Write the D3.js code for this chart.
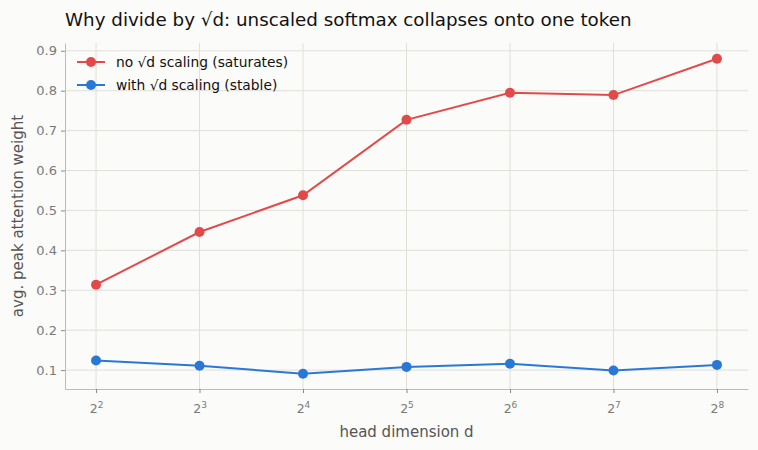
<!DOCTYPE html>
<html>
<head>
<meta charset="utf-8">
<script src="https://cdn.jsdelivr.net/npm/d3@7"></script>
<style>
  html, body { margin: 0; padding: 0; background: #fbfbf9; }
  svg { display: block; font-family: "DejaVu Sans", sans-serif; }
</style>
</head>
<body>
<div id="chart"></div>
<script>
const exponents = [2, 3, 4, 5, 6, 7, 8];
const noScaling = [0.314, 0.446, 0.538, 0.727, 0.795, 0.789, 0.880];
const withScaling = [0.124, 0.111, 0.091, 0.108, 0.116, 0.099, 0.113];
const yTicks = [0.1, 0.2, 0.3, 0.4, 0.5, 0.6, 0.7, 0.8, 0.9];
const seriesNames = ["no \u221Ad scaling (saturates)", "with \u221Ad scaling (stable)"];
const seriesColors = ["#e24a4a", "#2a78d6"];

const width = 758, height = 450;
const margin = {top: 43, right: 10, bottom: 61, left: 65};
const innerW = width - margin.left - margin.right,
      innerH = height - margin.top - margin.bottom;

const svg = d3.select("#chart")
    .append("svg")
    .attr("width", width)
    .attr("height", height);

svg.append("rect")
    .attr("width", width)
    .attr("height", height)
    .attr("fill", "#fbfbf9");

const g = svg.append("g")
    .attr("transform", "translate(" + margin.left + "," + margin.top + ")");

const x = d3.scaleLinear().domain([1.7, 8.3]).range([0, innerW]);
const y = d3.scaleLinear().domain([0.0526, 0.9195]).range([innerH, 0]);

// grid
g.selectAll(".vgrid")
    .data(exponents)
    .enter()
    .append("line")
    .attr("x1", d => x(d)).attr("x2", d => x(d))
    .attr("y1", 0).attr("y2", innerH)
    .attr("stroke", "#e0dfda").attr("stroke-width", 1);

g.selectAll(".hgrid")
    .data(yTicks)
    .enter()
    .append("line")
    .attr("x1", 0).attr("x2", innerW)
    .attr("y1", d => y(d)).attr("y2", d => y(d))
    .attr("stroke", "#e0dfda").attr("stroke-width", 1);

// axes
const xAxis = g.append("g")
    .attr("transform", "translate(0," + innerH + ")")
    .call(d3.axisBottom(x).tickValues(exponents).tickSize(4).tickSizeOuter(0).tickFormat(""));
const yAxis = g.append("g")
    .call(d3.axisLeft(y).tickValues(yTicks).tickSize(4).tickSizeOuter(0).tickFormat(d3.format(".1f")));

[xAxis, yAxis].forEach(a => {
    a.select(".domain").attr("stroke", "#bdbcb6");
    a.selectAll(".tick line").attr("stroke", "#8a8a86");
    a.selectAll("text").attr("fill", "#7a7a7a").attr("font-size", 13)
        .attr("font-family", "DejaVu Sans, sans-serif");
});
yAxis.selectAll("text").attr("x", -8);

// x tick labels as 2^n
const xl = xAxis.selectAll(".tick")
    .append("text")
    .attr("y", 24)
    .attr("text-anchor", "middle")
    .attr("fill", "#7a7a7a")
    .attr("font-size", 12.5)
    .attr("font-family", "DejaVu Sans, sans-serif");
xl.append("tspan").text("2");
xl.append("tspan").attr("dy", -5).attr("font-size", 9).text(d => d);

// axis labels
g.append("text")
    .attr("x", innerW / 2)
    .attr("y", innerH + 48)
    .attr("text-anchor", "middle")
    .attr("fill", "#555")
    .attr("font-size", 15)
    .text("head dimension d");

g.append("text")
    .attr("transform", "translate(-42," + (innerH / 2) + ") rotate(-90)")
    .attr("text-anchor", "middle")
    .attr("fill", "#555")
    .attr("font-size", 15)
    .text("avg. peak attention weight");

// title
svg.append("text")
    .attr("x", 65)
    .attr("y", 26)
    .attr("fill", "#111")
    .attr("font-size", 18.3)
    .text("Why divide by \u221Ad: unscaled softmax collapses onto one token");

// lines
const line = d3.line()
    .x((d, i) => x(exponents[i]))
    .y(d => y(d));

[noScaling, withScaling].forEach((vals, s) => {
    g.append("path")
        .datum(vals)
        .attr("d", line)
        .attr("fill", "none")
        .attr("stroke", seriesColors[s])
        .attr("stroke-width", 2);
    g.selectAll(".pt" + s)
        .data(vals)
        .enter()
        .append("circle")
        .attr("cx", (d, i) => x(exponents[i]))
        .attr("cy", d => y(d))
        .attr("r", 5)
        .attr("fill", seriesColors[s]);
});

// legend
const legend = g.append("g").attr("transform", "translate(12,19)");
seriesNames.forEach((name, s) => {
    const row = legend.append("g").attr("transform", "translate(0," + (s * 23) + ")");
    row.append("line")
        .attr("x1", 0).attr("x2", 28)
        .attr("stroke", seriesColors[s]).attr("stroke-width", 2);
    row.append("circle")
        .attr("cx", 14).attr("r", 5)
        .attr("fill", seriesColors[s]);
    row.append("text")
        .attr("x", 39)
        .attr("dy", "0.35em")
        .attr("fill", "#111")
        .attr("font-size", 13.8)
        .text(name);
});
</script>
</body>
</html>
